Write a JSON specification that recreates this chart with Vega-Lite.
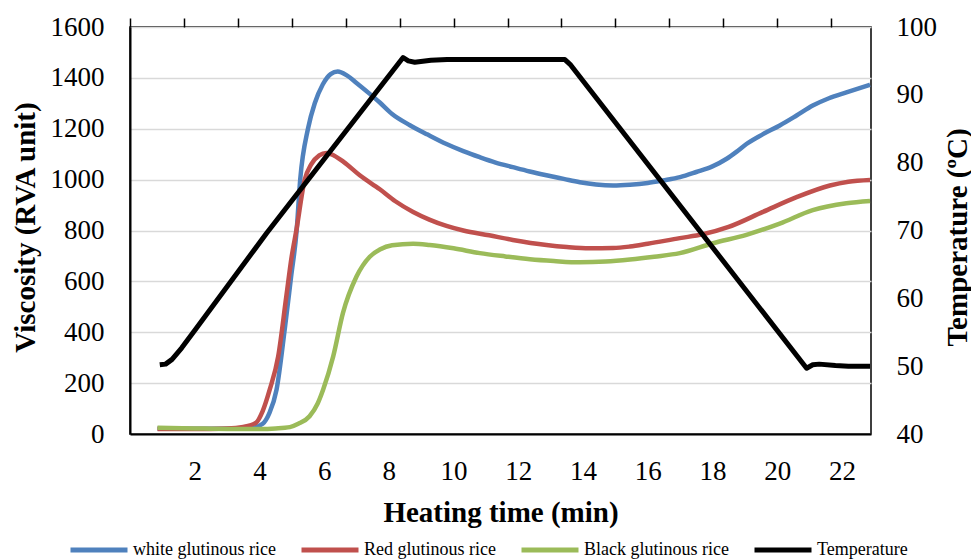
{
  "$schema": "https://vega.github.io/schema/vega-lite/v6.json",
  "width": 741,
  "height": 407,
  "autosize": {"type": "none"},
  "padding": {"left": 130, "top": 27, "right": 100, "bottom": 125},
  "background": "white",
  "config": {
    "font": "Liberation Serif",
    "view": {"stroke": "black", "strokeWidth": 1.5},
    "style": {"guide-label": {"font": "Liberation Serif"}, "guide-title": {"font": "Liberation Serif"}},
    "axis": {
      "labelFont": "Liberation Serif",
      "titleFont": "Liberation Serif",
      "labelColor": "black",
      "titleColor": "black",
      "labelFontSize": 27,
      "titleFontSize": 29,
      "titleFontWeight": "bold"
    },
    "legend": {
      "orient": "none",
      "legendX": -62,
      "legendY": 492,
      "direction": "horizontal",
      "symbolType": "stroke",
      "symbolSize": 3249,
      "symbolStrokeWidth": 5,
      "labelFont": "Liberation Serif",
      "labelFontSize": 18,
      "labelColor": "black",
      "labelOffset": 3,
      "columnPadding": 15,
      "padding": 0
    }
  },
  "layer": [
    {
      "data": {
        "values": [
          {"series": "white glutinous rice", "t": 0.85, "v": 22},
          {"series": "white glutinous rice", "t": 1.5, "v": 21},
          {"series": "white glutinous rice", "t": 2.5, "v": 21},
          {"series": "white glutinous rice", "t": 3.3, "v": 22},
          {"series": "white glutinous rice", "t": 3.8, "v": 25},
          {"series": "white glutinous rice", "t": 4.1, "v": 40},
          {"series": "white glutinous rice", "t": 4.3, "v": 80},
          {"series": "white glutinous rice", "t": 4.53, "v": 175},
          {"series": "white glutinous rice", "t": 4.78, "v": 410},
          {"series": "white glutinous rice", "t": 4.98, "v": 620},
          {"series": "white glutinous rice", "t": 5.15, "v": 800},
          {"series": "white glutinous rice", "t": 5.26, "v": 1000},
          {"series": "white glutinous rice", "t": 5.5, "v": 1200},
          {"series": "white glutinous rice", "t": 5.71, "v": 1300},
          {"series": "white glutinous rice", "t": 5.96, "v": 1375},
          {"series": "white glutinous rice", "t": 6.2, "v": 1415},
          {"series": "white glutinous rice", "t": 6.42, "v": 1425},
          {"series": "white glutinous rice", "t": 6.7, "v": 1410},
          {"series": "white glutinous rice", "t": 7.0, "v": 1380},
          {"series": "white glutinous rice", "t": 7.41, "v": 1337},
          {"series": "white glutinous rice", "t": 7.72, "v": 1303},
          {"series": "white glutinous rice", "t": 8.1, "v": 1258},
          {"series": "white glutinous rice", "t": 8.65, "v": 1214},
          {"series": "white glutinous rice", "t": 9.2, "v": 1177},
          {"series": "white glutinous rice", "t": 9.78, "v": 1140},
          {"series": "white glutinous rice", "t": 10.3, "v": 1112},
          {"series": "white glutinous rice", "t": 10.81, "v": 1088},
          {"series": "white glutinous rice", "t": 11.3, "v": 1067},
          {"series": "white glutinous rice", "t": 11.83, "v": 1049},
          {"series": "white glutinous rice", "t": 12.35, "v": 1032},
          {"series": "white glutinous rice", "t": 12.87, "v": 1017},
          {"series": "white glutinous rice", "t": 13.4, "v": 1003},
          {"series": "white glutinous rice", "t": 13.9, "v": 990},
          {"series": "white glutinous rice", "t": 14.4, "v": 981},
          {"series": "white glutinous rice", "t": 14.93, "v": 977},
          {"series": "white glutinous rice", "t": 15.45, "v": 980},
          {"series": "white glutinous rice", "t": 16.0, "v": 987},
          {"series": "white glutinous rice", "t": 16.47, "v": 997},
          {"series": "white glutinous rice", "t": 17.0, "v": 1010},
          {"series": "white glutinous rice", "t": 17.5, "v": 1030},
          {"series": "white glutinous rice", "t": 18.0, "v": 1052},
          {"series": "white glutinous rice", "t": 18.44, "v": 1082},
          {"series": "white glutinous rice", "t": 18.75, "v": 1110},
          {"series": "white glutinous rice", "t": 19.05, "v": 1140},
          {"series": "white glutinous rice", "t": 19.55, "v": 1178},
          {"series": "white glutinous rice", "t": 20.08, "v": 1213},
          {"series": "white glutinous rice", "t": 20.6, "v": 1252},
          {"series": "white glutinous rice", "t": 21.1, "v": 1291},
          {"series": "white glutinous rice", "t": 21.6, "v": 1320},
          {"series": "white glutinous rice", "t": 22.14, "v": 1343},
          {"series": "white glutinous rice", "t": 22.5, "v": 1358},
          {"series": "white glutinous rice", "t": 22.87, "v": 1373},

          {"series": "Red glutinous rice", "t": 0.85, "v": 20},
          {"series": "Red glutinous rice", "t": 2.0, "v": 20},
          {"series": "Red glutinous rice", "t": 3.0, "v": 22},
          {"series": "Red glutinous rice", "t": 3.5, "v": 28},
          {"series": "Red glutinous rice", "t": 3.9, "v": 45},
          {"series": "Red glutinous rice", "t": 4.1, "v": 90},
          {"series": "Red glutinous rice", "t": 4.32, "v": 175},
          {"series": "Red glutinous rice", "t": 4.58, "v": 305},
          {"series": "Red glutinous rice", "t": 4.83, "v": 540},
          {"series": "Red glutinous rice", "t": 5.0, "v": 700},
          {"series": "Red glutinous rice", "t": 5.14, "v": 800},
          {"series": "Red glutinous rice", "t": 5.4, "v": 1000},
          {"series": "Red glutinous rice", "t": 5.6, "v": 1060},
          {"series": "Red glutinous rice", "t": 5.85, "v": 1095},
          {"series": "Red glutinous rice", "t": 6.07, "v": 1105},
          {"series": "Red glutinous rice", "t": 6.3, "v": 1095},
          {"series": "Red glutinous rice", "t": 6.6, "v": 1070},
          {"series": "Red glutinous rice", "t": 7.1, "v": 1017},
          {"series": "Red glutinous rice", "t": 7.72, "v": 962},
          {"series": "Red glutinous rice", "t": 8.2, "v": 915},
          {"series": "Red glutinous rice", "t": 8.75, "v": 873},
          {"series": "Red glutinous rice", "t": 9.25, "v": 843},
          {"series": "Red glutinous rice", "t": 9.78, "v": 818},
          {"series": "Red glutinous rice", "t": 10.3, "v": 800},
          {"series": "Red glutinous rice", "t": 11.1, "v": 781},
          {"series": "Red glutinous rice", "t": 11.83, "v": 763},
          {"series": "Red glutinous rice", "t": 12.87, "v": 743},
          {"series": "Red glutinous rice", "t": 13.5, "v": 735},
          {"series": "Red glutinous rice", "t": 14.2, "v": 730},
          {"series": "Red glutinous rice", "t": 14.93, "v": 731},
          {"series": "Red glutinous rice", "t": 15.45, "v": 737},
          {"series": "Red glutinous rice", "t": 16.0, "v": 748},
          {"series": "Red glutinous rice", "t": 16.99, "v": 770},
          {"series": "Red glutinous rice", "t": 17.7, "v": 785},
          {"series": "Red glutinous rice", "t": 18.5, "v": 814},
          {"series": "Red glutinous rice", "t": 19.56, "v": 873},
          {"series": "Red glutinous rice", "t": 20.6, "v": 931},
          {"series": "Red glutinous rice", "t": 21.63, "v": 977},
          {"series": "Red glutinous rice", "t": 22.2, "v": 992},
          {"series": "Red glutinous rice", "t": 22.87, "v": 999},

          {"series": "Black glutinous rice", "t": 0.85, "v": 25},
          {"series": "Black glutinous rice", "t": 2.0, "v": 22},
          {"series": "Black glutinous rice", "t": 3.0, "v": 20},
          {"series": "Black glutinous rice", "t": 4.0, "v": 20},
          {"series": "Black glutinous rice", "t": 4.5, "v": 22},
          {"series": "Black glutinous rice", "t": 4.94, "v": 27},
          {"series": "Black glutinous rice", "t": 5.2, "v": 40},
          {"series": "Black glutinous rice", "t": 5.55, "v": 70},
          {"series": "Black glutinous rice", "t": 5.8, "v": 120},
          {"series": "Black glutinous rice", "t": 5.97, "v": 175},
          {"series": "Black glutinous rice", "t": 6.28, "v": 305},
          {"series": "Black glutinous rice", "t": 6.58, "v": 475},
          {"series": "Black glutinous rice", "t": 7.0, "v": 619},
          {"series": "Black glutinous rice", "t": 7.41, "v": 697},
          {"series": "Black glutinous rice", "t": 7.72, "v": 725},
          {"series": "Black glutinous rice", "t": 8.1, "v": 742},
          {"series": "Black glutinous rice", "t": 8.75, "v": 748},
          {"series": "Black glutinous rice", "t": 9.26, "v": 743},
          {"series": "Black glutinous rice", "t": 10.0, "v": 730},
          {"series": "Black glutinous rice", "t": 10.81, "v": 711},
          {"series": "Black glutinous rice", "t": 11.6, "v": 698},
          {"series": "Black glutinous rice", "t": 12.36, "v": 687},
          {"series": "Black glutinous rice", "t": 13.1, "v": 680},
          {"series": "Black glutinous rice", "t": 13.9, "v": 675},
          {"series": "Black glutinous rice", "t": 14.7, "v": 678},
          {"series": "Black glutinous rice", "t": 15.45, "v": 686},
          {"series": "Black glutinous rice", "t": 16.2, "v": 697},
          {"series": "Black glutinous rice", "t": 16.99, "v": 711},
          {"series": "Black glutinous rice", "t": 18.02, "v": 750},
          {"series": "Black glutinous rice", "t": 19.05, "v": 783},
          {"series": "Black glutinous rice", "t": 20.08, "v": 827},
          {"series": "Black glutinous rice", "t": 21.1, "v": 880},
          {"series": "Black glutinous rice", "t": 22.14, "v": 907},
          {"series": "Black glutinous rice", "t": 22.87, "v": 916}
        ]
      },
      "mark": {"type": "line", "interpolate": "monotone", "strokeWidth": 4.5},
      "encoding": {
        "x": {
          "field": "t",
          "type": "quantitative",
          "scale": {"domain": [0, 22.9], "nice": false, "zero": false},
          "axis": {
            "title": "Heating time (min)",
            "values": [2, 4, 6, 8, 10, 12, 14, 16, 18, 20, 22],
            "format": "d",
            "labelFont": "Liberation Serif",
            "titleFont": "Liberation Serif",
            "ticks": false,
            "grid": false,
            "domain": true,
            "domainColor": "black",
            "domainWidth": 2,
            "labelPadding": 24,
            "titleY": 87,
            "titleBaseline": "alphabetic"
          }
        },
        "y": {
          "field": "v",
          "type": "quantitative",
          "scale": {"domain": [0, 1600], "nice": false},
          "axis": {
            "title": "Viscosity (RVA unit)",
            "values": [0, 200, 400, 600, 800, 1000, 1200, 1400, 1600],
            "format": "d",
            "labelFont": "Liberation Serif",
            "titleFont": "Liberation Serif",
            "ticks": false,
            "grid": true,
            "gridColor": "#D9D9D9",
            "gridWidth": 1.5,
            "domain": true,
            "domainColor": "black",
            "domainWidth": 2,
            "labelPadding": 26,
            "titleAngle": 270,
            "titleX": -96,
            "titleY": 200,
            "titleBaseline": "alphabetic"
          }
        },
        "color": {
          "field": "series",
          "type": "nominal",
          "scale": {
            "domain": ["white glutinous rice", "Red glutinous rice", "Black glutinous rice", "Temperature"],
            "range": ["#4F81BD", "#C0504D", "#9BBB59", "#000000"]
          },
          "legend": {"title": null, "labelFont": "Liberation Serif"}
        }
      }
    },
    {
      "data": {
        "values": [
          {"series": "Temperature", "t": 0.92, "temp": 50.2},
          {"series": "Temperature", "t": 1.1, "temp": 50.3},
          {"series": "Temperature", "t": 1.3, "temp": 51.0},
          {"series": "Temperature", "t": 1.6, "temp": 52.7},
          {"series": "Temperature", "t": 2.05, "temp": 55.6},
          {"series": "Temperature", "t": 4.22, "temp": 69.6},
          {"series": "Temperature", "t": 8.44, "temp": 95.5},
          {"series": "Temperature", "t": 8.6, "temp": 95.0},
          {"series": "Temperature", "t": 8.8, "temp": 94.8},
          {"series": "Temperature", "t": 9.3, "temp": 95.1},
          {"series": "Temperature", "t": 9.8, "temp": 95.2},
          {"series": "Temperature", "t": 13.44, "temp": 95.2},
          {"series": "Temperature", "t": 13.6, "temp": 94.5},
          {"series": "Temperature", "t": 20.91, "temp": 49.7},
          {"series": "Temperature", "t": 21.1, "temp": 50.2},
          {"series": "Temperature", "t": 21.3, "temp": 50.3},
          {"series": "Temperature", "t": 21.8, "temp": 50.1},
          {"series": "Temperature", "t": 22.2, "temp": 50.0},
          {"series": "Temperature", "t": 22.87, "temp": 50.0}
        ]
      },
      "mark": {"type": "line", "interpolate": "linear", "strokeWidth": 5, "strokeJoin": "round"},
      "encoding": {
        "x": {
          "field": "t",
          "type": "quantitative",
          "scale": {"domain": [0, 22.9], "nice": false, "zero": false},
          "axis": {
            "title": null,
            "values": [0, 1.667, 3.333, 5, 6.667, 8.333, 10, 11.667, 13.333, 15, 16.667, 18.333, 20, 21.667],
            "labels": false,
            "ticks": true,
            "tickSize": 9,
            "tickColor": "black",
            "tickWidth": 1.5,
            "grid": false,
            "domain": false
          }
        },
        "y": {
          "field": "temp",
          "type": "quantitative",
          "scale": {"domain": [40, 100], "nice": false, "zero": false},
          "axis": {
            "orient": "right",
            "title": "Temperature (ºC)",
            "values": [40, 50, 60, 70, 80, 90, 100],
            "format": "d",
            "labelFont": "Liberation Serif",
            "titleFont": "Liberation Serif",
            "ticks": false,
            "grid": false,
            "domain": false,
            "labelPadding": 25,
            "titleAngle": 270,
            "titleX": 95,
            "titleY": 210,
            "titleBaseline": "alphabetic"
          }
        },
        "color": {
          "field": "series",
          "type": "nominal",
          "scale": {
            "domain": ["white glutinous rice", "Red glutinous rice", "Black glutinous rice", "Temperature"],
            "range": ["#4F81BD", "#C0504D", "#9BBB59", "#000000"]
          },
          "legend": {"title": null, "labelFont": "Liberation Serif"}
        }
      }
    }
  ],
  "resolve": {"scale": {"y": "independent"}, "axis": {"x": "independent"}}
}
